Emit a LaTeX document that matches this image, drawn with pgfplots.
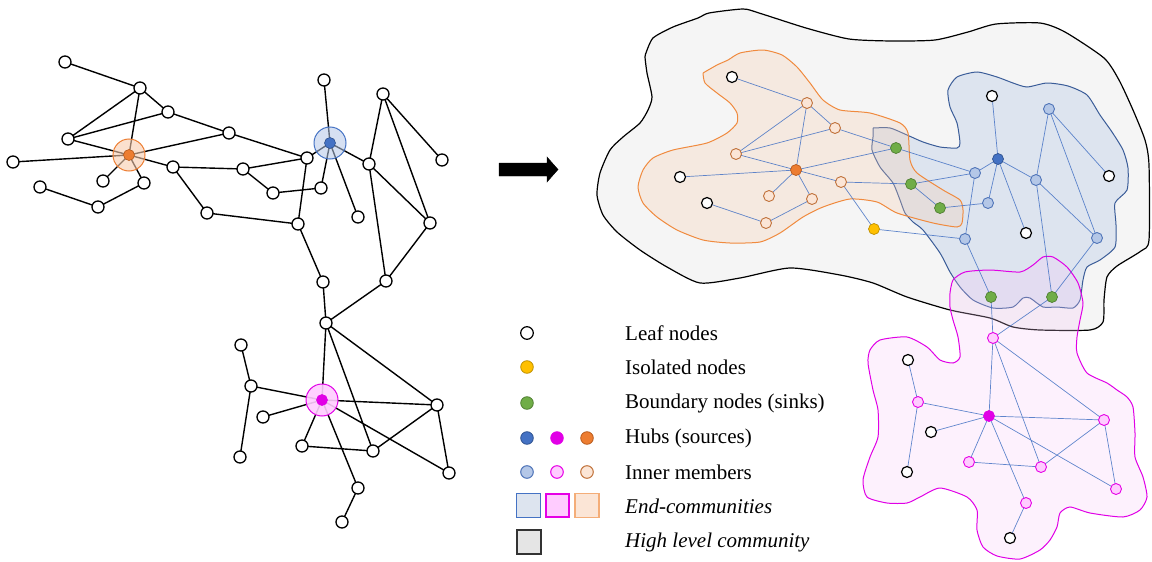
\documentclass[border=0pt]{standalone}
\usepackage{pgfplots}
\pgfplotsset{compat=1.18}
\usepackage{fontspec}
\setmainfont{Liberation Serif}
\definecolor{hubB}{HTML}{4472C4}
\definecolor{hubBd}{HTML}{2F528F}
\definecolor{hubP}{HTML}{E100E6}
\definecolor{hubPd}{HTML}{B000B8}
\definecolor{hubO}{HTML}{ED7D31}
\definecolor{hubOd}{HTML}{B85A1C}
\definecolor{inB}{HTML}{B4C7E7}
\definecolor{inBd}{HTML}{4F74B8}
\definecolor{inP}{HTML}{FFCCFF}
\definecolor{inPd}{HTML}{E600E6}
\definecolor{inO}{HTML}{FBE5D6}
\definecolor{inOd}{HTML}{C0713A}
\definecolor{grn}{HTML}{70AD47}
\definecolor{grnd}{HTML}{507E32}
\definecolor{yel}{HTML}{FFC000}
\definecolor{yeld}{HTML}{BF9000}
\definecolor{blobG}{HTML}{F5F5F5}
\definecolor{blobO}{HTML}{F8CBAD}
\definecolor{blobOd}{HTML}{F08A3E}
\definecolor{blobB}{HTML}{DDE4EF}
\definecolor{blobBd}{HTML}{3A5C98}
\definecolor{blobP}{HTML}{F7C8F7}
\definecolor{blobPd}{HTML}{E000E6}
\definecolor{edgeB}{HTML}{4472C4}
\begin{document}
\begin{tikzpicture}
\begin{axis}[scale only axis, width=1152pt, height=562pt,
  xmin=0, xmax=1152, ymin=0, ymax=562, y dir=reverse,
  hide axis, ticks=none, clip=false, unbounded coords=jump]

% invisible frame that fixes the picture's extent
\addplot[draw=none, forget plot] coordinates {(0,0)(1152,0)(1152,562)(0,562)};

% ---------- left graph: halos ----------
\addplot[only marks, mark=*, mark size=16, mark options={fill=blobO, fill opacity=0.6, draw=hubO, line width=1pt}] coordinates {(129,155)};
\addplot[only marks, mark=*, mark size=16, mark options={fill=inB, fill opacity=0.55, draw=hubB, line width=1pt}] coordinates {(330,143)};
\addplot[only marks, mark=*, mark size=16, mark options={fill=inP, fill opacity=0.9, draw=hubP, line width=1pt}] coordinates {(322,400)};

% ---------- left graph: edges ----------
\addplot[black, line width=1.4pt] coordinates {
(65,62)(140,88)(nan,nan)
(140,88)(168,112)(nan,nan)
(140,88)(68,139)(nan,nan)
(140,88)(129,155)(nan,nan)
(68,139)(168,112)(nan,nan)
(68,139)(129,155)(nan,nan)
(168,112)(229,133)(nan,nan)
(229,133)(307,158)(nan,nan)
(129,155)(229,133)(nan,nan)
(129,155)(13,162)(nan,nan)
(129,155)(173,167)(nan,nan)
(129,155)(103,181)(nan,nan)
(129,155)(144,183)(nan,nan)
(40,187)(98,207)(nan,nan)
(98,207)(144,183)(nan,nan)
(173,167)(207,213)(nan,nan)
(173,167)(243,169)(nan,nan)
(207,213)(298,224)(nan,nan)
(243,169)(307,158)(nan,nan)
(243,169)(273,193)(nan,nan)
(273,193)(321,188)(nan,nan)
(321,188)(330,143)(nan,nan)
(307,158)(330,143)(nan,nan)
(324,80)(330,143)(nan,nan)
(330,143)(369,164)(nan,nan)
(330,143)(358,217)(nan,nan)
(307,158)(298,224)(nan,nan)
(298,224)(323,282)(nan,nan)
(369,164)(383,94)(nan,nan)
(383,94)(442,160)(nan,nan)
(383,94)(430,223)(nan,nan)
(369,164)(430,223)(nan,nan)
(369,164)(386,281)(nan,nan)
(430,223)(386,281)(nan,nan)
(323,282)(326,323)(nan,nan)
(386,281)(326,323)(nan,nan)
(326,323)(322,400)(nan,nan)
(326,323)(373,451)(nan,nan)
(326,323)(437,405)(nan,nan)
(241,345)(251,386)(nan,nan)
(251,386)(240,457)(nan,nan)
(251,386)(322,400)(nan,nan)
(322,400)(263,417)(nan,nan)
(322,400)(437,405)(nan,nan)
(322,400)(302,446)(nan,nan)
(322,400)(358,488)(nan,nan)
(322,400)(449,473)(nan,nan)
(302,446)(373,451)(nan,nan)
(373,451)(437,405)(nan,nan)
(437,405)(449,473)(nan,nan)
(358,488)(342,522)
};

% ---------- left graph: nodes ----------
\addplot[only marks, mark=*, mark size=6, mark options={fill=white, draw=black, line width=1.3pt}] coordinates {
(65,62)(140,88)(168,112)(229,133)(68,139)(13,162)(173,167)(103,181)(144,183)(40,187)(98,207)(207,213)
(324,80)(383,94)(307,158)(243,169)(369,164)(442,160)(321,188)(273,193)(358,217)(298,224)(430,223)
(323,282)(386,281)(326,323)(241,345)(251,386)(263,417)(437,405)(302,446)(373,451)(240,457)(449,473)(358,488)(342,522)
};
\addplot[only marks, mark=*, mark size=5.5, mark options={fill=hubO, draw=hubOd, line width=0.6pt}] coordinates {(129,155)};
\addplot[only marks, mark=*, mark size=5.5, mark options={fill=hubB, draw=hubBd, line width=0.6pt}] coordinates {(330,143)};
\addplot[only marks, mark=*, mark size=5.5, mark options={fill=hubP, draw=hubP, line width=0.6pt}] coordinates {(322,400)};

% ---------- arrow ----------
\addplot[fill=black, draw=black] coordinates {(499,163)(547,163)(547,157)(558,169.5)(547,182)(547,176)(499,176)(499,163)};

% ---------- right: high level community ----------
\addplot[fill=blobG, draw=black, line width=1.2pt, smooth, tension=0.4] coordinates {
(646,53)(653,38)(673,27)(698,18)(709,13)(743,9)(759,13)(806,28)(849,39)(892,41)(935,40)(968,32)(996,24)(1040,23)(1065,32)(1104,58)(1119,80)(1133,110)(1145,140)(1149,165)(1149,240)(1141,251)(1117,266)(1107,277)(1104,300)(1103,322)(1090,330)(1040,330)(1013,327)(990,318)(950,310)(907,297)(873,283)(840,275)(790,268)(740,278)(700,283)(667,267)(640,250)(617,232)(603,215)(597,195)(600,173)(610,150)(623,137)(640,123)(648,110)(652,97)(647,73)(645,57)(646,53)
};

% ---------- blue end community ----------
\addplot[fill=blobB, draw=blobBd, line width=1pt, smooth, tension=0.4] coordinates {
(873,128)(890,128)(907,135)(923,142)(940,147)(957,148)(960,143)(957,123)(950,107)(948,90)(957,77)(977,72)(997,77)(1013,83)(1027,87)(1047,83)(1068,86)(1087,95)(1100,115)(1112,132)(1123,150)(1128,168)(1127,190)(1115,203)(1116,225)(1115,247)(1100,260)(1087,267)(1083,280)(1080,300)(1073,308)(1057,307)(1043,307)(1030,298)(1023,298)(1013,307)(993,308)(973,300)(960,287)(950,272)(940,253)(923,230)(913,222)(905,213)(900,200)(893,183)(880,167)(872,150)(873,137)(873,128)
};

% ---------- orange end community ----------
\addplot[fill=blobO, fill opacity=0.28, draw=blobOd, line width=1pt, smooth, tension=0.4] coordinates {
(703,73)(717,65)(728,60)(740,53)(763,50)(782,55)(797,67)(810,83)(823,100)(840,110)(870,113)(900,123)(908,133)(910,160)(917,173)(943,190)(960,200)(963,210)(962,223)(957,227)(933,223)(897,213)(877,202)(850,199)(823,207)(803,217)(780,233)(760,242)(730,243)(703,240)(677,230)(657,217)(643,203)(638,187)(643,170)(653,158)(673,150)(707,143)(727,133)(737,123)(737,113)(730,103)(717,93)(705,83)(703,73)
};

% ---------- pink end community ----------
\addplot[fill=blobP, fill opacity=0.25, draw=blobPd, line width=1pt, smooth, tension=0.4] coordinates {
(950,293)(953,280)(965,272)(990,270)(1020,272)(1033,265)(1043,257)(1053,257)(1067,267)(1078,283)(1083,303)(1080,320)(1077,337)(1077,353)(1087,373)(1107,383)(1117,390)(1127,397)(1133,407)(1135,433)(1135,457)(1143,477)(1147,497)(1140,510)(1123,517)(1090,513)(1070,507)(1060,513)(1057,527)(1050,540)(1040,550)(1020,559)(997,556)(983,547)(977,530)(977,510)(967,497)(940,488)(920,497)(907,503)(887,503)(867,497)(863,480)(870,457)(878,437)(878,410)(873,390)(868,363)(870,350)(880,340)(907,337)(927,347)(940,360)(953,363)(960,357)(958,337)(953,320)(950,307)(950,293)
};

% ---------- right graph: edges ----------
\addplot[edgeB, line width=0.7pt, opacity=0.85] coordinates {
(732,77)(807,103)(nan,nan)
(807,103)(736,154)(nan,nan)
(807,103)(835,128)(nan,nan)
(807,103)(796,170)(nan,nan)
(835,128)(736,154)(nan,nan)
(835,128)(896,148)(nan,nan)
(736,154)(796,170)(nan,nan)
(796,170)(680,177)(nan,nan)
(796,170)(769,196)(nan,nan)
(796,170)(812,199)(nan,nan)
(796,170)(841,182)(nan,nan)
(796,170)(896,148)(nan,nan)
(707,203)(766,223)(nan,nan)
(766,223)(812,199)(nan,nan)
(841,182)(911,184)(nan,nan)
(841,182)(874,229)(nan,nan)
(896,148)(975,173)(nan,nan)
(911,184)(975,173)(nan,nan)
(911,184)(940,208)(nan,nan)
(940,208)(988,203)(nan,nan)
(988,203)(998,159)(nan,nan)
(975,173)(998,159)(nan,nan)
(992,96)(998,159)(nan,nan)
(998,159)(1036,180)(nan,nan)
(998,159)(1026,233)(nan,nan)
(975,173)(965,239)(nan,nan)
(874,229)(965,239)(nan,nan)
(965,239)(991,297)(nan,nan)
(991,297)(993,338)(nan,nan)
(1049,109)(1036,180)(nan,nan)
(1049,109)(1109,176)(nan,nan)
(1049,109)(1097,238)(nan,nan)
(1036,180)(1097,238)(nan,nan)
(1036,180)(1052,297)(nan,nan)
(1097,238)(1052,297)(nan,nan)
(1052,297)(993,338)(nan,nan)
(993,338)(989,416)(nan,nan)
(993,338)(1041,467)(nan,nan)
(993,338)(1104,420)(nan,nan)
(908,360)(918,402)(nan,nan)
(918,402)(907,472)(nan,nan)
(918,402)(989,416)(nan,nan)
(989,416)(931,432)(nan,nan)
(989,416)(1104,420)(nan,nan)
(989,416)(969,462)(nan,nan)
(989,416)(1026,503)(nan,nan)
(989,416)(1116,489)(nan,nan)
(969,462)(1041,467)(nan,nan)
(1041,467)(1104,420)(nan,nan)
(1104,420)(1116,489)(nan,nan)
(1026,503)(1010,538)
};

% ---------- right graph: nodes ----------
\addplot[only marks, mark=*, mark size=5.5, mark options={fill=white, draw=black, line width=1.2pt}] coordinates {
(732,77)(680,177)(707,203)(992,96)(1109,176)(1026,233)(908,360)(931,432)(907,472)(1010,538)
};
\addplot[only marks, mark=*, mark size=5.5, mark options={fill=yel, draw=yeld, line width=0.7pt}] coordinates {(874,229)};
\addplot[only marks, mark=*, mark size=5.5, mark options={fill=grn, draw=grnd, line width=0.7pt}] coordinates {
(896,148)(911,184)(940,208)(991,297)(1052,297)
};
\addplot[only marks, mark=*, mark size=5.5, mark options={fill=inO, draw=inOd, line width=0.9pt}] coordinates {
(807,103)(835,128)(736,154)(841,182)(769,196)(812,199)(766,223)
};
\addplot[only marks, mark=*, mark size=5.5, mark options={fill=inB, draw=inBd, line width=0.9pt}] coordinates {
(1049,109)(975,173)(1036,180)(988,203)(965,239)(1097,238)
};
\addplot[only marks, mark=*, mark size=5.5, mark options={fill=inP, draw=inPd, line width=0.9pt}] coordinates {
(993,338)(918,402)(1104,420)(969,462)(1041,467)(1116,489)(1026,503)
};
\addplot[only marks, mark=*, mark size=5.5, mark options={fill=hubO, draw=hubOd, line width=0.7pt}] coordinates {(796,170)};
\addplot[only marks, mark=*, mark size=5.5, mark options={fill=hubB, draw=hubBd, line width=0.7pt}] coordinates {(998,159)};
\addplot[only marks, mark=*, mark size=5.5, mark options={fill=hubP, draw=hubP, line width=0.7pt}] coordinates {(989,416)};

% ---------- legend ----------
\addplot[only marks, mark=*, mark size=6.3, mark options={fill=white, draw=black, line width=1.2pt}] coordinates {(527,333)};
\addplot[only marks, mark=*, mark size=6.3, mark options={fill=yel, draw=yeld, line width=0.8pt}] coordinates {(527,367)};
\addplot[only marks, mark=*, mark size=6.3, mark options={fill=grn, draw=grnd, line width=0.8pt}] coordinates {(527,403)};
\addplot[only marks, mark=*, mark size=6.3, mark options={fill=hubB, draw=hubBd, line width=0.8pt}] coordinates {(527,438)};
\addplot[only marks, mark=*, mark size=6.3, mark options={fill=hubP, draw=hubP, line width=0.8pt}] coordinates {(557,438)};
\addplot[only marks, mark=*, mark size=6.3, mark options={fill=hubO, draw=hubOd, line width=0.8pt}] coordinates {(587,438)};
\addplot[only marks, mark=*, mark size=6.3, mark options={fill=inB, draw=inBd, line width=1pt}] coordinates {(527,472)};
\addplot[only marks, mark=*, mark size=6.3, mark options={fill=inP, draw=inPd, line width=1pt}] coordinates {(557,472)};
\addplot[only marks, mark=*, mark size=6.3, mark options={fill=inO, draw=inOd, line width=1pt}] coordinates {(587,472)};
\addplot[only marks, mark=square*, mark size=12, mark options={fill=blobB, draw=hubB, line width=1.2pt}] coordinates {(528.5,505.5)};
\addplot[only marks, mark=square*, mark size=11.5, mark options={fill=inP, draw=inPd, line width=1.2pt}] coordinates {(557.5,505.5)};
\addplot[only marks, mark=square*, mark size=12, mark options={fill=inO, draw=blobOd!70, line width=1.2pt}] coordinates {(587,505.5)};
\addplot[only marks, mark=square*, mark size=12, mark options={fill=black!10, draw=black!80, line width=1.4pt}] coordinates {(529,542)};

\begin{scope}[every node/.style={anchor=west, inner sep=0pt, font=\fontsize{21}{25}\selectfont}]
\node at (axis cs:625,333) {Leaf nodes};
\node at (axis cs:625,367) {Isolated nodes};
\node at (axis cs:625,403) {Boundary nodes (sinks)};
\node at (axis cs:625,438) {Hubs (sources)};
\node at (axis cs:625,472) {Inner members};
\node at (axis cs:625,506) {\itshape End-communities};
\node at (axis cs:625,542) {\itshape High level community};
\end{scope}
\end{axis}
\end{tikzpicture}
\end{document}
